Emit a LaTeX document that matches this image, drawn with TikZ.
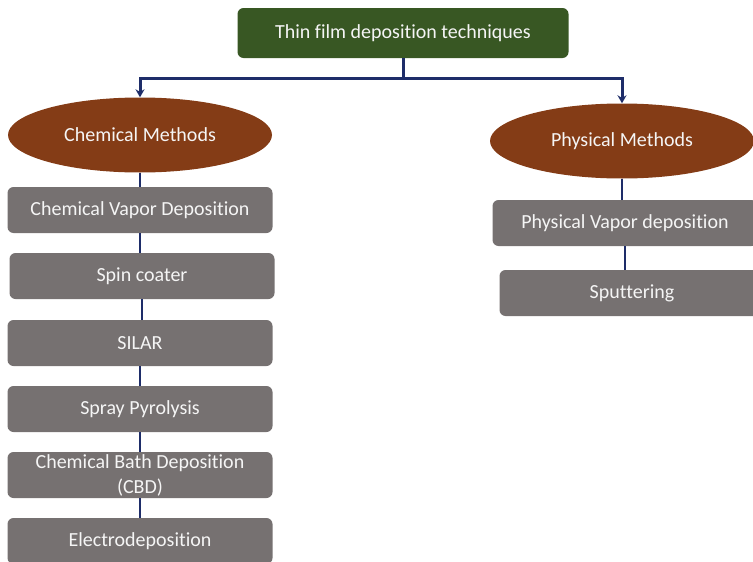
\documentclass[tikz,border=0pt]{standalone}
\usepackage{fontspec}
\setmainfont[Ligatures=NoCommon]{Carlito}
\usetikzlibrary{shapes.geometric,arrows.meta}
\definecolor{rootGreen}{RGB}{56,87,35}
\definecolor{methodBrown}{RGB}{132,60,22}
\definecolor{stepGray}{RGB}{118,113,113}
\definecolor{linkBlue}{RGB}{30,45,105}

\begin{document}
\begin{tikzpicture}[x=1pt,y=-1pt,font=\fontsize{20}{25}\selectfont,
    techbox/.style={rectangle,rounded corners=6pt,fill=stepGray,text=white!92!gray,
      minimum width=265pt,minimum height=46pt,inner sep=0pt,align=center},
    methodoval/.style={ellipse,fill=methodBrown,text=white!92!gray,
      minimum width=264pt,minimum height=75pt,inner sep=0pt},
    link/.style={draw=linkBlue,line width=2.8pt},
    linkarrow/.style={link,line width=3pt,-{Stealth[length=8pt,width=9pt]}}]
  \clip (0,0) rectangle (753,562);
  \useasboundingbox (0,0) rectangle (753,562);
  % Root of the tree
  \node[rectangle,rounded corners=6pt,fill=rootGreen,text=white!92!gray,
    minimum width=331pt,minimum height=50pt,inner sep=0pt] (root) at (403,33)
    {Thin film deposition techniques};
  % The two families of methods
  \node[methodoval] (chem) at (140,135) {Chemical Methods};
  \node[methodoval] (phys) at (622,141) {Physical Methods};
  % Branches from the root
  \coordinate (fork) at (403,78);
  \draw[link,line width=3pt] (root.south) -- (fork);
  \draw[linkarrow] (fork) -| (chem.north);
  \draw[linkarrow] (fork) -| (phys.north);
  % Chemical techniques
  \node[techbox] (cvd) at (140,210) {Chemical Vapor Deposition};
  \node[techbox] (spin) at (142,276) {Spin coater};
  \node[techbox] (silar) at (140,343) {SILAR};
  \node[techbox] (spray) at (140,409) {Spray Pyrolysis};
  \node[techbox] (cbd) at (140,475) {Chemical Bath Deposition\\(CBD)};
  \node[techbox] (electro) at (140,541) {Electrodeposition};
  % Physical techniques
  \node[techbox] (pvd) at (625,223) {Physical Vapor deposition};
  \node[techbox] (sputter) at (632,293) {Sputtering};
  % Chains of techniques
  \foreach \a/\b in {chem/cvd,cvd/spin,spin/silar,silar/spray,spray/cbd,cbd/electro,phys/pvd,pvd/sputter}
    \draw[link] (\a.south) -- (\a.south |- \b.north);
\end{tikzpicture}
\end{document}
